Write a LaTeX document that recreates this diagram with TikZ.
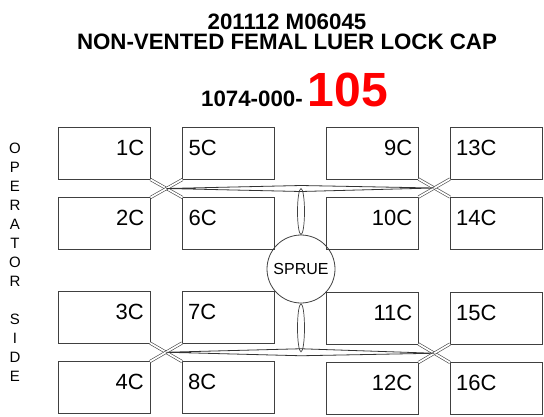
\documentclass[tikz,border=0pt]{standalone}
\usepackage{fontspec}
\setmainfont{Liberation Sans}
\usetikzlibrary{shapes.geometric,calc}

\tikzset{
  empreinte/.style={draw=black!75, line width=0.9pt, rectangle, minimum width=92pt,
    minimum height=52pt, inner sep=0pt, outer sep=0pt},
  numD/.style={anchor=base east, xshift=-6pt, yshift=-28pt, inner sep=0pt,
    font=\fontsize{22}{22}\selectfont},
  numG/.style={anchor=base west, xshift=6pt, yshift=-28pt, inner sep=0pt,
    font=\fontsize{22}{22}\selectfont},
  titre/.style={inner sep=0pt, font=\bfseries\fontsize{22.3}{20.5}\selectfont},
  croix/.style={draw=black!75, double, double distance=1.8pt, line width=0.6pt},
  canal/.style={draw=black!80, line width=0.8pt},
  tige/.style={draw=black!75, ellipse, line width=0.7pt, minimum width=7pt, inner sep=0pt},
}

\begin{document}
\begin{tikzpicture}[x=1pt, y=-1pt]
    \useasboundingbox (0,0) rectangle (544,416);

    % Titre
    \node[titre, align=center] (titre) at (287,32)
      {201112 M06045\\NON-VENTED FEMAL LUER LOCK CAP};
    \node[titre, anchor=base] (piece) at (294.5,106)
      {1074-000-\hspace{5pt}{\color{red}\fontsize{48}{48}\selectfont 105}};

    % Cote operateur
    \node[inner sep=0pt, align=center, font=\fontsize{15}{19}\selectfont] (operateur) at (15,262)
      {O\\P\\E\\R\\A\\T\\O\\R\\[19pt]S\\I\\D\\E};

    % Empreintes du haut
    \node[empreinte, label={[numD]north east:1C}] (c1) at (104.5,153.5) {};
    \node[empreinte, label={[numD]north east:2C}] (c2) at (104.5,223.5) {};
    \node[empreinte, label={[numG]north west:5C}] (c5) at (228.5,153.5) {};
    \node[empreinte, label={[numG]north west:6C}] (c6) at (228.5,223.5) {};
    \node[empreinte, label={[numD]north east:9C}] (c9) at (372.5,153) {};
    \node[empreinte, label={[numD]north east:10C}] (c10) at (372.5,223) {};
    \node[empreinte, label={[numG]north west:13C}] (c13) at (496,153) {};
    \node[empreinte, label={[numG]north west:14C}] (c14) at (496,223) {};

    % Empreintes du bas
    \node[empreinte, label={[numD]north east:3C}] (c3) at (104,317) {};
    \node[empreinte, label={[numD]north east:4C}] (c4) at (104,387.5) {};
    \node[empreinte, label={[numG]north west:7C}] (c7) at (228,317) {};
    \node[empreinte, label={[numG]north west:8C}] (c8) at (228,387.5) {};
    \node[empreinte, label={[numD]north east:11C}] (c11) at (372.5,318) {};
    \node[empreinte, label={[numD]north east:12C}] (c12) at (372.5,388.5) {};
    \node[empreinte, label={[numG]north west:15C}] (c15) at (496,318) {};
    \node[empreinte, label={[numG]north west:16C}] (c16) at (496,388.5) {};

    % Carotte
    \node[draw=black!75, circle, line width=0.8pt, minimum size=68pt, inner sep=0pt,
      font=\fontsize{16}{16}\selectfont] (sprue) at (301,269) {SPRUE};

    % Croisements entre les empreintes
    \draw[croix] (c1.south east) -- (c6.north west);
    \draw[croix] (c2.north east) -- (c5.south west);
    \draw[croix] (c9.south east) -- (c14.north west);
    \draw[croix] (c10.north east) -- (c13.south west);
    \draw[croix] (c3.south east) -- (c8.north west);
    \draw[croix] (c4.north east) -- (c7.south west);
    \draw[croix] (c11.south east) -- (c16.north west);
    \draw[croix] (c12.north east) -- (c15.south west);

    % Canaux
    \coordinate (xhg) at ($(c1.south east)!0.5!(c6.north west)$);
    \coordinate (xhd) at ($(c9.south east)!0.5!(c14.north west)$);
    \coordinate (xbg) at ($(c3.south east)!0.5!(c8.north west)$);
    \coordinate (xbd) at ($(c11.south east)!0.5!(c16.north west)$);
    \coordinate (jh) at (sprue.center |- xhg);
    \coordinate (jb) at (sprue.center |- xbg);
    \draw[canal] (xhg) -- ($(jh)+(0,-3)$) -- (xhd) -- ($(jh)+(0,3)$) -- cycle;
    \draw[canal] (xbg) -- ($(jb)+(0,-3.5)$) -- (xbd) -- ($(jb)+(0,3.5)$) -- cycle;

    % Liaisons avec la carotte
    \node[tige, minimum height=46pt] (tigeh) at ($(jh)!0.5!(sprue.north)$) {};
    \node[tige, minimum height=48pt] (tigeb) at ($(jb)!0.5!(sprue.south)$) {};
\end{tikzpicture}
\end{document}
